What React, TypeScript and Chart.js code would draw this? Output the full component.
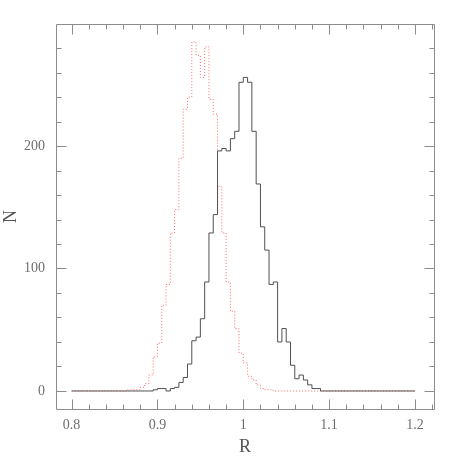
import { useEffect, useRef } from "react";
import { Chart, registerables } from "chart.js";

Chart.register(...registerables);

// Histogram bins: 80 bins of width 0.005 from R = 0.8 to 1.2
const BIN_START = 0.8;
const BIN_WIDTH = 0.005;

// Solid (dark) histogram counts
const solidCounts = [
  0, 0, 0, 0, 0, 0, 0, 0, 0, 0,
  0, 0, 0, 0, 0, 0, 0, 0, 0, 0,
  1, 2, 2, 0, 2, 3, 7, 11, 22, 41,
  44, 59, 89, 129, 144, 196, 198, 196, 206, 212,
  252, 256, 252, 212, 169, 134, 115, 87, 89, 40,
  51, 40, 21, 10, 13, 9, 5, 2, 2, 0,
  0, 0, 0, 0, 0, 0, 0, 0, 0, 0,
  0, 0, 0, 0, 0, 0, 0, 0, 0, 0,
];

// Dotted (red) histogram counts
const dottedCounts = [
  0, 0, 0, 0, 0, 0, 0, 0, 0, 0,
  0, 0, 0, 0, 1, 1, 1, 3, 6, 13,
  28, 39, 70, 87, 129, 148, 190, 230, 240, 285,
  274, 256, 281, 238, 226, 167, 129, 89, 65, 51,
  31, 23, 12, 9, 5, 2, 1, 1, 0, 0,
  0, 0, 0, 0, 0, 0, 0, 0, 0, 0,
  0, 0, 0, 0, 0, 0, 0, 0, 0, 0,
  0, 0, 0, 0, 0, 0, 0, 0, 0, 0,
];

const xTickLabels = [0.8, 0.9, 1.0, 1.1, 1.2];
const yTickLabels = [0, 100, 200];
const xMinorStep = 0.02;
const yMinorStep = 20;

const X_MIN = 0.7818;
const X_MAX = 1.2222;
const Y_MIN = -14.7;
const Y_MAX = 299.6;

const FRAME_COLOR = "#8c8c8c";
const LABEL_COLOR = "#6e6e6e";
const SOLID_COLOR = "#505050";
const DOTTED_COLOR = "#ff6a6a";
const FONT = "'Liberation Serif', 'DejaVu Serif', serif";

function toStepPoints(counts: number[]) {
  const pts = counts.map((v, i) => ({ x: +(BIN_START + i * BIN_WIDTH).toFixed(4), y: v }));
  pts.push({ x: +(BIN_START + counts.length * BIN_WIDTH).toFixed(4), y: counts[counts.length - 1] });
  return pts;
}

const frameTicksPlugin = {
  id: "frameTicks",
  afterDatasetsDraw(chart: any) {
    const { ctx, chartArea: a, scales } = chart;
    const xs = scales.x;
    const ys = scales.y;
    const L = Math.round(a.left) + 0.5;
    const R = Math.round(a.right) + 0.5;
    const T = Math.round(a.top) + 0.5;
    const B = Math.round(a.bottom) + 0.5;
    ctx.save();
    ctx.strokeStyle = FRAME_COLOR;
    ctx.lineWidth = 1;
    ctx.beginPath();
    ctx.rect(L, T, R - L, B - T);
    // x ticks (bottom & top)
    const i0 = Math.ceil(X_MIN / xMinorStep - 1e-6);
    const i1 = Math.floor(X_MAX / xMinorStep + 1e-6);
    for (let i = i0; i <= i1; i++) {
      const v = i * xMinorStep;
      const major = xTickLabels.some((t) => Math.abs(t - v) < 1e-6);
      const len = major ? 10 : 5;
      const px = Math.round(xs.getPixelForValue(v)) + 0.5;
      ctx.moveTo(px, B);
      ctx.lineTo(px, B - len);
      ctx.moveTo(px, T);
      ctx.lineTo(px, T + len);
    }
    // y ticks (left & right)
    const j0 = Math.ceil(Y_MIN / yMinorStep - 1e-6);
    const j1 = Math.floor(Y_MAX / yMinorStep + 1e-6);
    for (let j = j0; j <= j1; j++) {
      const v = j * yMinorStep;
      const major = yTickLabels.some((t) => Math.abs(t - v) < 1e-6);
      const len = major ? 10 : 5;
      const py = Math.round(ys.getPixelForValue(v)) + 0.5;
      ctx.moveTo(L, py);
      ctx.lineTo(L + len, py);
      ctx.moveTo(R, py);
      ctx.lineTo(R - len, py);
    }
    ctx.stroke();
    ctx.restore();
  },
};

export default function App() {
  const canvasRef = useRef<HTMLCanvasElement>(null);

  useEffect(() => {
    const canvas = canvasRef.current;
    if (!canvas) return;
    const chart = new Chart(canvas, {
      type: "line",
      data: {
        datasets: [
          {
            label: "solid",
            data: toStepPoints(solidCounts),
            stepped: "after",
            borderColor: SOLID_COLOR,
            borderWidth: 1,
            pointRadius: 0,
            fill: false,
          },
          {
            label: "dotted",
            data: toStepPoints(dottedCounts),
            stepped: "after",
            borderColor: DOTTED_COLOR,
            borderWidth: 1,
            borderDash: [1, 2],
            pointRadius: 0,
            fill: false,
          },
        ],
      },
      options: {
        animation: false,
        responsive: false,
        maintainAspectRatio: false,
        layout: { padding: { top: 24, right: 24, left: 0, bottom: 0 } },
        plugins: { legend: { display: false }, tooltip: { enabled: false } },
        scales: {
          x: {
            type: "linear",
            min: X_MIN,
            max: X_MAX,
            grid: { display: false, drawTicks: false },
            border: { display: false },
            afterBuildTicks: (s: any) => {
              s.ticks = xTickLabels.map((v) => ({ value: v }));
            },
            afterFit: (s: any) => {
              s.height = 49;
            },
            ticks: {
              color: LABEL_COLOR,
              font: { family: FONT, size: 14 },
              padding: 8,
              maxRotation: 0,
              autoSkip: false,
              callback: (v: any) => String(+Number(v).toFixed(2)),
            },
            title: {
              display: true,
              text: "R",
              color: "#555555",
              font: { family: FONT, size: 18 },
              padding: 0,
            },
          },
          y: {
            type: "linear",
            min: Y_MIN,
            max: Y_MAX,
            grid: { display: false, drawTicks: false },
            border: { display: false },
            afterBuildTicks: (s: any) => {
              s.ticks = yTickLabels.map((v) => ({ value: v }));
            },
            afterFit: (s: any) => {
              s.width = 56;
            },
            ticks: {
              color: LABEL_COLOR,
              font: { family: FONT, size: 14 },
              padding: 11,
              autoSkip: false,
              callback: (v: any) => String(Number(v)),
            },
            title: {
              display: true,
              text: "N",
              color: "#555555",
              font: { family: FONT, size: 18 },
              padding: 0,
            },
          },
        },
      },
      plugins: [frameTicksPlugin],
    });
    return () => chart.destroy();
  }, []);

  return (
    <div style={{ position: "absolute", left: 0, top: 0, width: 458, height: 458, background: "#ffffff" }}>
      <canvas ref={canvasRef} width={458} height={458} style={{ display: "block", width: 458, height: 458 }} />
    </div>
  );
}
